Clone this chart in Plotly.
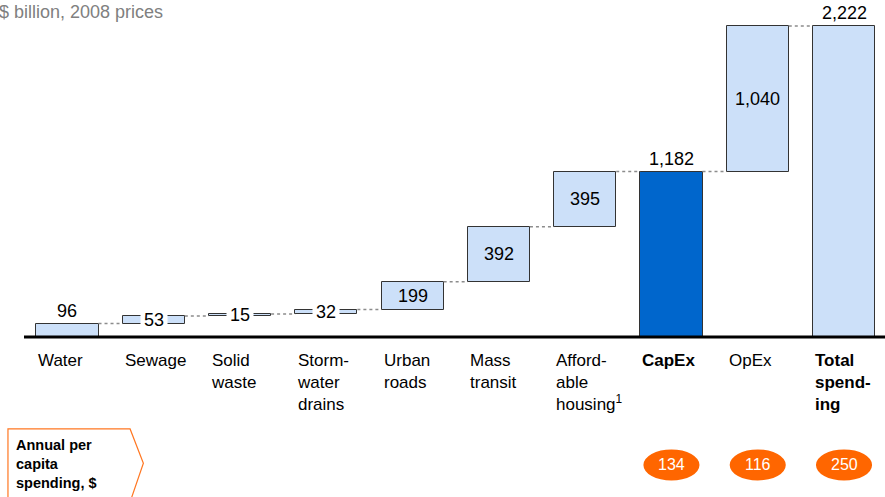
import plotly.graph_objects as go

# Spending components, $ billion (2008 prices)
categories = ["Water", "Sewage", "Solid<br>waste", "Storm-<br>water<br>drains", "Urban<br>roads",
              "Mass<br>transit", "Afford-<br>able<br>housing<sup>1</sup>", "<b>CapEx</b>", "OpEx",
              "<b>Total<br>spend-<br>ing</b>"]
components = [96, 53, 15, 32, 199, 392, 395]
opex = 1040
value_labels = ["96", "53", "15", "32", "199", "392", "395", "1,182", "1,040", "2,222"]
per_capita_labels = ["134", "116", "250"]  # CapEx, OpEx, Total

# Build bases and heights for the floating bars
bases, heights = [], []
running = 0
for v in components:
    bases.append(running)
    heights.append(v)
    running += v
capex = running
bases += [0, capex, 0]
heights += [capex, opex, capex + opex]
tops = [b + h for b, h in zip(bases, heights)]

LIGHT = "#CCE0F9"
DARK = "#0066CC"
ORANGE = "#FF6600"
FONT = "Arial, 'Liberation Sans', sans-serif"
colors = [LIGHT] * 7 + [DARK, LIGHT, LIGHT]
xs = list(range(len(categories)))
BAR_W = 0.72

fig = go.Figure()
fig.add_trace(go.Bar(
    x=xs, y=heights, base=bases, width=BAR_W,
    marker=dict(color=colors, line=dict(color="#333333", width=1)),
    hoverinfo="skip", showlegend=False,
))

# Dotted connectors between consecutive bars
cx, cy = [], []
for i in range(len(xs) - 1):
    level = tops[i]
    if i == 7:
        level = capex
    if i == 8:
        level = capex + opex
    cx += [xs[i] + BAR_W / 2, xs[i + 1] - BAR_W / 2, None]
    cy += [level, level, None]
fig.add_trace(go.Scatter(x=cx, y=cy, mode="lines",
                         line=dict(color="#8C8C8C", width=1.5, dash="dot"),
                         hoverinfo="skip", showlegend=False))

ann = []
# Value labels
for i, lab in enumerate(value_labels):
    if i in (0, 7, 9):
        ann.append(dict(x=xs[i], y=tops[i], text=lab, showarrow=False, yanchor="bottom",
                        yshift=1, font=dict(size=18, color="#000000", family=FONT)))
    elif i in (1, 2, 3):
        ann.append(dict(x=xs[i], y=bases[i] + heights[i] / 2, text=lab, showarrow=False,
                        yanchor="middle", bgcolor="#FFFFFF", borderpad=3,
                        font=dict(size=18, color="#000000", family=FONT)))
    else:
        ann.append(dict(x=xs[i], y=bases[i] + heights[i] / 2, text=lab, showarrow=False,
                        yanchor="middle", font=dict(size=18, color="#000000", family=FONT)))

# Category labels under the axis
for i, cat in enumerate(categories):
    ann.append(dict(x=xs[i] - BAR_W / 2, y=-85, text=cat, showarrow=False, xanchor="left",
                    yanchor="top", align="left",
                    font=dict(size=17, color="#000000", family=FONT)))

# Per-capita ovals
shapes = []
for k, lab in enumerate(per_capita_labels):
    i = 7 + k
    shapes.append(dict(type="circle", xref="x", yref="y", x0=i - 0.325, x1=i + 0.325,
                       y0=-914 - 111, y1=-914 + 111, fillcolor=ORANGE, line=dict(width=0)))
    ann.append(dict(x=i, y=-914, text=lab, showarrow=False, yanchor="middle",
                    font=dict(size=16, color="#FFFFFF", family=FONT)))

# Baseline
shapes.append(dict(type="line", xref="paper", yref="y", x0=24 / 885, x1=1, y0=0, y1=0,
                   line=dict(color="#000000", width=3), layer="above"))

# Arrow-shaped side label box
shapes.append(dict(type="path", xref="paper", yref="paper",
                   path="M 0.009,-0.01 L 0.009,0.137 L 0.147,0.137 L 0.162,0.068 L 0.147,-0.01",
                   line=dict(color="#FF7722", width=1.2), fillcolor="rgba(0,0,0,0)"))
ann.append(dict(xref="paper", yref="paper", x=14 / 885, y=1 - 435 / 497,
                text="<b>Annual per<br>capita<br>spending, $</b>", showarrow=False,
                xanchor="left", yanchor="top", align="left",
                font=dict(size=14.5, color="#000000", family=FONT)))

# Unit line
ann.append(dict(xref="paper", yref="paper", x=0, y=1 - 12 / 497, text="$ billion, 2008 prices",
                showarrow=False, xanchor="left", yanchor="middle", xshift=-3,
                font=dict(size=18, color="#808080", family=FONT)))

fig.update_layout(
    width=885, height=497, margin=dict(l=0, r=0, t=0, b=0),
    paper_bgcolor="#FFFFFF", plot_bgcolor="#FFFFFF",
    xaxis=dict(range=[-0.782, 9.475], visible=False, fixedrange=True),
    yaxis=dict(range=[-1143, 2407], visible=False, fixedrange=True),
    annotations=ann, shapes=shapes, bargap=0,
)

fig.write_html("out.html")
